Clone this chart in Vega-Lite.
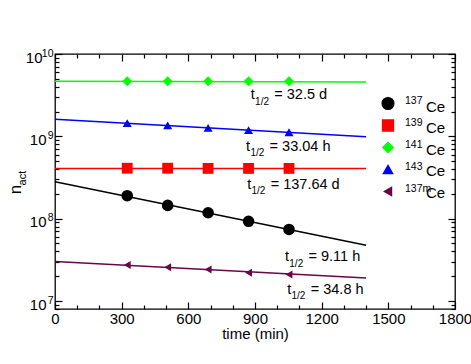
{
  "$schema": "https://vega.github.io/schema/vega-lite/v6.json",
  "width": 400,
  "height": 255,
  "autosize": "none",
  "padding": {"left": 55, "top": 54, "right": 16, "bottom": 55},
  "config": {
    "font": "Liberation Sans",
    "view": {"stroke": "#000000", "strokeWidth": 1.3},
    "axis": {"domain": false, "grid": false, "tickColor": "#000000", "tickWidth": 1.2, "labelColor": "#000000", "titleColor": "#000000", "labelFont": "Liberation Sans", "titleFont": "Liberation Sans", "titleFontWeight": "normal"},
    "legend": {"labelFont": "Liberation Sans"}
  },
  "datasets": {
    "lines": [
      {"iso": "¹³⁷Ce", "time": 0, "n": 2.81e8}, {"iso": "¹³⁷Ce", "time": 1400, "n": 4.76e7},
      {"iso": "¹³⁹Ce", "time": 0, "n": 4.08e8}, {"iso": "¹³⁹Ce", "time": 1400, "n": 4.06e8},
      {"iso": "¹⁴¹Ce", "time": 0, "n": 4.68e9}, {"iso": "¹⁴¹Ce", "time": 1400, "n": 4.58e9},
      {"iso": "¹⁴³Ce", "time": 0, "n": 1.61e9}, {"iso": "¹⁴³Ce", "time": 1400, "n": 9.87e8},
      {"iso": "¹³⁷ᵐCe", "time": 0, "n": 3.03e7}, {"iso": "¹³⁷ᵐCe", "time": 1400, "n": 1.90e7}
    ],
    "points": [
      {"iso": "¹³⁷Ce", "time": 325, "n": 1.90e8}, {"iso": "¹³⁷Ce", "time": 507, "n": 1.45e8}, {"iso": "¹³⁷Ce", "time": 689, "n": 1.18e8}, {"iso": "¹³⁷Ce", "time": 871, "n": 9.3e7}, {"iso": "¹³⁷Ce", "time": 1053, "n": 7.4e7},
      {"iso": "¹³⁹Ce", "time": 325, "n": 4.1e8}, {"iso": "¹³⁹Ce", "time": 507, "n": 4.1e8}, {"iso": "¹³⁹Ce", "time": 689, "n": 4.08e8}, {"iso": "¹³⁹Ce", "time": 871, "n": 4.08e8}, {"iso": "¹³⁹Ce", "time": 1053, "n": 4.08e8},
      {"iso": "¹⁴¹Ce", "time": 325, "n": 4.66e9}, {"iso": "¹⁴¹Ce", "time": 507, "n": 4.66e9}, {"iso": "¹⁴¹Ce", "time": 689, "n": 4.66e9}, {"iso": "¹⁴¹Ce", "time": 871, "n": 4.66e9}, {"iso": "¹⁴¹Ce", "time": 1053, "n": 4.66e9},
      {"iso": "¹⁴³Ce", "time": 325, "n": 1.45e9}, {"iso": "¹⁴³Ce", "time": 507, "n": 1.36e9}, {"iso": "¹⁴³Ce", "time": 689, "n": 1.27e9}, {"iso": "¹⁴³Ce", "time": 871, "n": 1.19e9}, {"iso": "¹⁴³Ce", "time": 1053, "n": 1.12e9},
      {"iso": "¹³⁷ᵐCe", "time": 325, "n": 2.74e7}, {"iso": "¹³⁷ᵐCe", "time": 507, "n": 2.57e7}, {"iso": "¹³⁷ᵐCe", "time": 689, "n": 2.42e7}, {"iso": "¹³⁷ᵐCe", "time": 871, "n": 2.2e7}, {"iso": "¹³⁷ᵐCe", "time": 1053, "n": 2.1e7}
    ],
    "ann": [
      {"lbl": "= 32.5 d", "time": 881, "n": 2.81e9},
      {"lbl": "= 33.04 h", "time": 860, "n": 6.66e8},
      {"lbl": "= 137.64 d", "time": 865, "n": 2.32e8},
      {"lbl": "= 9.11 h", "time": 1035, "n": 3.06e7},
      {"lbl": "= 34.8 h", "time": 1045, "n": 1.23e7}
    ]
  },
  "resolve": {"axis": {"x": "independent", "y": "independent"}},
  "layer": [
    {
      "data": {"name": "lines"},
      "mark": {"type": "line", "strokeWidth": 1.5},
      "encoding": {
        "x": {"field": "time", "type": "quantitative", "scale": {"domain": [0, 1800], "nice": false, "zero": false},
              "axis": {"orient": "bottom", "values": [0, 300, 600, 900, 1200, 1500, 1800], "format": "d", "ticks": false, "labelFontSize": 15, "labelPadding": 2, "title": "time (min)", "titleFontSize": 15, "titlePadding": 0, "labelFlush": false}},
        "y": {"field": "n", "type": "quantitative", "scale": {"type": "log", "domain": [8e6, 1e10], "nice": false, "zero": false},
              "axis": {"orient": "left", "values": [1e7, 1e8, 1e9, 1e10], "ticks": false, "labelFontSize": 15, "labelAlign": "right", "labelBaseline": "alphabetic", "labelOffset": 8,
                       "labelPadding": {"condition": {"test": "datum.value > 5e9", "value": 13}, "value": 9}, "title": null,
                       "labelExpr": "'10'"}},
        "color": {"field": "iso", "type": "nominal", "scale": {"domain": ["¹³⁷Ce", "¹³⁹Ce", "¹⁴¹Ce", "¹⁴³Ce", "¹³⁷ᵐCe"], "range": ["#000000", "#ff0000", "#00ff00", "#0000ff", "#670748"]},
                  "legend": {"title": null, "orient": "none", "legendX": 326, "legendY": 42, "padding": 0, "clipHeight": 15, "labelFontSize": 10.5, "labelOffset": 10, "labelBaseline": "alphabetic", "rowPadding": 6, "labelColor": "#000000",
                             "labelExpr": "datum.label == '¹³⁷Ce' ? '137' : datum.label == '¹³⁹Ce' ? '139' : datum.label == '¹⁴¹Ce' ? '141' : datum.label == '¹⁴³Ce' ? '143' : '137m'"}},
        "opacity": {"field": "iso", "type": "nominal", "scale": {"domain": ["¹³⁷Ce", "¹³⁹Ce", "¹⁴¹Ce", "¹⁴³Ce", "¹³⁷ᵐCe", "x"], "range": [1, 1, 1, 1, 1, 1]},
                    "legend": {"title": null, "orient": "none", "legendX": 356, "legendY": 45, "padding": 0, "clipHeight": 15, "labelFontSize": 15, "labelOffset": 0, "rowPadding": 5.5, "labelColor": "#000000", "symbolOpacity": 0, "symbolStrokeWidth": 0,
                               "values": ["¹³⁷Ce", "¹³⁹Ce", "¹⁴¹Ce", "¹⁴³Ce", "¹³⁷ᵐCe"], "labelExpr": "datum.label == '¹³⁷ᵐCe' ? '\u00a0\u00a0\u00a0Ce' : 'Ce'"}},
        "detail": {"field": "iso"}
      }
    },
    {
      "data": {"name": "points"},
      "mark": {"type": "point", "filled": true, "opacity": 1},
      "encoding": {
        "x": {"field": "time", "type": "quantitative", "scale": {"domain": [0, 1800], "nice": false, "zero": false},
              "axis": {"orient": "bottom", "values": [100, 200, 400, 500, 700, 800, 1000, 1100, 1300, 1400, 1600, 1700], "tickSize": -4, "labels": false, "title": null}},
        "y": {"field": "n", "type": "quantitative", "scale": {"type": "log", "domain": [8e6, 1e10], "nice": false, "zero": false},
              "axis": {"orient": "left", "values": [8e6, 9e6, 2e7, 3e7, 4e7, 5e7, 6e7, 7e7, 8e7, 9e7, 2e8, 3e8, 4e8, 5e8, 6e8, 7e8, 8e8, 9e8, 2e9, 3e9, 4e9, 5e9, 6e9, 7e9, 8e9, 9e9], "tickSize": -4, "labels": false, "title": null}},
        "color": {"field": "iso", "type": "nominal", "scale": {"domain": ["¹³⁷Ce", "¹³⁹Ce", "¹⁴¹Ce", "¹⁴³Ce", "¹³⁷ᵐCe"], "range": ["#000000", "#ff0000", "#00ff00", "#0000ff", "#670748"]},
                  "legend": {"title": null, "orient": "none", "legendX": 326, "legendY": 42, "padding": 0, "clipHeight": 15, "labelFontSize": 10.5, "labelOffset": 10, "labelBaseline": "alphabetic", "rowPadding": 6, "labelColor": "#000000",
                             "labelExpr": "datum.label == '¹³⁷Ce' ? '137' : datum.label == '¹³⁹Ce' ? '139' : datum.label == '¹⁴¹Ce' ? '141' : datum.label == '¹⁴³Ce' ? '143' : '137m'"}},
        "shape": {"field": "iso", "type": "nominal", "scale": {"domain": ["¹³⁷Ce", "¹³⁹Ce", "¹⁴¹Ce", "¹⁴³Ce", "¹³⁷ᵐCe"], "range": ["circle", "square", "diamond", "triangle-up", "triangle-left"]},
                  "legend": {"title": null, "orient": "none", "legendX": 326, "legendY": 42, "padding": 0, "clipHeight": 15, "labelFontSize": 10.5, "labelOffset": 10, "labelBaseline": "alphabetic", "rowPadding": 6, "labelColor": "#000000",
                             "labelExpr": "datum.label == '¹³⁷Ce' ? '137' : datum.label == '¹³⁹Ce' ? '139' : datum.label == '¹⁴¹Ce' ? '141' : datum.label == '¹⁴³Ce' ? '143' : '137m'"}},
        "size": {"field": "iso", "type": "nominal", "scale": {"domain": ["¹³⁷Ce", "¹³⁹Ce", "¹⁴¹Ce", "¹⁴³Ce", "¹³⁷ᵐCe"], "range": [135, 64, 135, 140, 140]},
                  "legend": {"title": null, "orient": "none", "legendX": 326, "legendY": 42, "padding": 0, "clipHeight": 15, "labelFontSize": 10.5, "labelOffset": 10, "labelBaseline": "alphabetic", "rowPadding": 6, "labelColor": "#000000",
                             "labelExpr": "datum.label == '¹³⁷Ce' ? '137' : datum.label == '¹³⁹Ce' ? '139' : datum.label == '¹⁴¹Ce' ? '141' : datum.label == '¹⁴³Ce' ? '143' : '137m'"}}
      }
    },
    {
      "data": {"name": "ann"},
      "mark": {"type": "text", "text": "t", "align": "left", "baseline": "alphabetic", "fontSize": 14.5, "color": "#000000"},
      "encoding": {
        "x": {"field": "time", "type": "quantitative", "scale": {"domain": [0, 1800], "nice": false, "zero": false},
              "axis": {"orient": "top", "values": [0, 300, 600, 900, 1200, 1500, 1800], "tickSize": -7, "labels": false, "title": null}},
        "y": {"field": "n", "type": "quantitative", "scale": {"type": "log", "domain": [8e6, 1e10], "nice": false, "zero": false},
              "axis": {"orient": "right", "values": [1e7, 1e8, 1e9, 1e10], "tickSize": -7, "labels": false, "title": null}}
      }
    },
    {
      "data": {"name": "ann"},
      "mark": {"type": "text", "text": "1/2", "align": "left", "baseline": "alphabetic", "fontSize": 10, "dx": 4.3, "dy": 5.5, "color": "#000000"},
      "encoding": {
        "x": {"field": "time", "type": "quantitative", "scale": {"domain": [0, 1800], "nice": false, "zero": false},
              "axis": {"orient": "top", "values": [100, 200, 400, 500, 700, 800, 1000, 1100, 1300, 1400, 1600, 1700], "tickSize": -4, "labels": false, "title": null}},
        "y": {"field": "n", "type": "quantitative", "scale": {"type": "log", "domain": [8e6, 1e10], "nice": false, "zero": false},
              "axis": {"orient": "right", "values": [8e6, 9e6, 2e7, 3e7, 4e7, 5e7, 6e7, 7e7, 8e7, 9e7, 2e8, 3e8, 4e8, 5e8, 6e8, 7e8, 8e8, 9e8, 2e9, 3e9, 4e9, 5e9, 6e9, 7e9, 8e9, 9e9], "tickSize": -4, "labels": false, "title": null}}
      }
    },
    {
      "data": {"name": "ann"},
      "mark": {"type": "text", "align": "left", "baseline": "alphabetic", "fontSize": 14.5, "dx": 23.5, "color": "#000000"},
      "encoding": {
        "x": {"field": "time", "type": "quantitative", "scale": {"domain": [0, 1800], "nice": false, "zero": false},
              "axis": {"orient": "bottom", "values": [0, 300, 600, 900, 1200, 1500, 1800], "tickSize": -7, "labels": false, "title": null}},
        "y": {"field": "n", "type": "quantitative", "scale": {"type": "log", "domain": [8e6, 1e10], "nice": false, "zero": false},
              "axis": {"orient": "left", "values": [1e7, 1e8, 1e9, 1e10], "ticks": false, "labelFontSize": 10.5, "labelAlign": "right", "labelBaseline": "alphabetic", "labelOffset": 2, "labelPadding": 2, "title": null,
                       "labelExpr": "datum.value > 5e9 ? '10' : datum.value > 5e8 ? '9' : datum.value > 5e7 ? '8' : '7'"}},
        "text": {"field": "lbl"}
      }
    },
    {
      "data": {"values": [{}]},
      "mark": {"type": "text", "text": "n", "angle": 270, "align": "center", "baseline": "alphabetic", "fontSize": 17, "color": "#000000"},
      "encoding": {
        "x": {"datum": -155, "type": "quantitative", "scale": {"domain": [0, 1800], "nice": false, "zero": false}, "axis": null},
        "y": {"datum": 2.26e8, "type": "quantitative", "scale": {"type": "log", "domain": [8e6, 1e10], "nice": false, "zero": false},
              "axis": {"orient": "left", "values": [1e7, 1e8, 1e9, 1e10], "tickSize": -7, "labels": false, "title": null}}
      }
    },
    {
      "data": {"values": [{}]},
      "mark": {"type": "text", "text": "act", "angle": 270, "align": "center", "baseline": "alphabetic", "fontSize": 11, "color": "#000000"},
      "encoding": {
        "x": {"datum": -130, "type": "quantitative", "scale": {"domain": [0, 1800], "nice": false, "zero": false}, "axis": null},
        "y": {"datum": 3.11e8, "type": "quantitative", "scale": {"type": "log", "domain": [8e6, 1e10], "nice": false, "zero": false}, "axis": null}
      }
    }
  ]
}
